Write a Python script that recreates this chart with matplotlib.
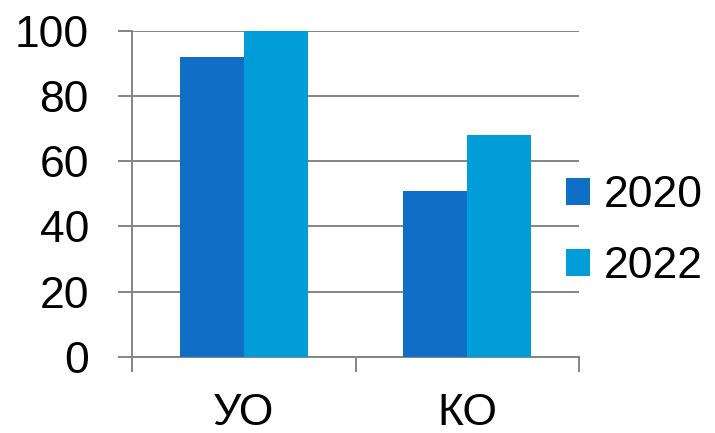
import matplotlib
matplotlib.use("Agg")
import matplotlib.pyplot as plt
import numpy as np

categories = ["УО", "КО"]
series_names = ["2020", "2022"]
values_2020 = [92, 51]
values_2022 = [100, 68]
yticks = [0, 20, 40, 60, 80, 100]

colors = ["#0F6FC6", "#009DD9"]
grid_color = "#858585"

plt.rcParams["font.family"] = ["Liberation Sans", "DejaVu Sans"]
fs = 32

fig = plt.figure(figsize=(7.15, 4.33), dpi=100)
ax = fig.add_axes([132/715, (433-356.7)/433, (579-132)/715, (356.7-31)/433])

x = np.arange(len(categories))
w = 0.286
ax.bar(x - w/2, values_2020, width=w, color=colors[0], label=series_names[0], zorder=3)
ax.bar(x + w/2, values_2022, width=w, color=colors[1], label=series_names[1], zorder=3)

ax.set_xlim(-0.5, len(categories) - 0.5)
ax.set_ylim(0, 100)
ax.set_yticks(yticks)
ax.set_yticklabels([str(v) for v in yticks], fontsize=fs)
ax.yaxis.grid(True, color=grid_color, linewidth=1.4, zorder=0)
ax.set_axisbelow(True)

ax.set_xticks(x)
ax.set_xticklabels(categories, fontsize=fs)
ax.set_xticks(np.arange(-0.5, len(categories), 1.0), minor=True)
ax.tick_params(axis="x", which="major", length=0, pad=26)
ax.tick_params(axis="x", which="minor", length=11, width=1.4, color=grid_color, direction="out")
ax.tick_params(axis="y", which="major", length=10, width=1.4, color=grid_color, direction="out", pad=21)

for s in ["top", "right"]:
    ax.spines[s].set_visible(False)
for s in ["left", "bottom"]:
    ax.spines[s].set_color(grid_color)
    ax.spines[s].set_linewidth(1.4)

leg = fig.legend(loc="center left", bbox_to_anchor=(566/715, (433-231)/433),
                 frameon=False, fontsize=fs, borderpad=0, borderaxespad=0,
                 handlelength=0.55, handleheight=0.55, handletextpad=0.3,
                 labelspacing=0.68)

fig.savefig("out.png", dpi=100)
